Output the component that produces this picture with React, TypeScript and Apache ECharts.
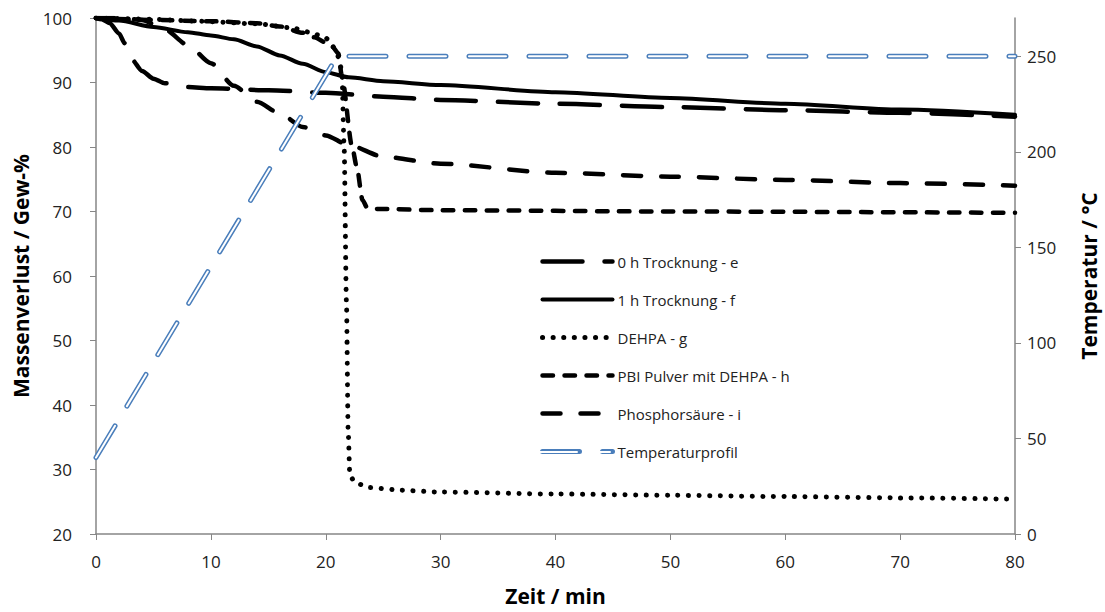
import React, { useEffect, useRef } from "react";
import * as echarts from "echarts";

const xTicks = [0, 10, 20, 30, 40, 50, 60, 70, 80];
const leftTicks = [20, 30, 40, 50, 60, 70, 80, 90, 100];
const rightTicks = [0, 50, 100, 150, 200, 250];

const trocknung0h = [
  [0, 100], [0.5, 99.8], [1.2, 99.2], [2, 97.6], [2.5, 96.1], [3.1, 93.6], [4, 91.8], [5, 90.6],
  [6, 89.9], [8, 89.3], [10, 89.1], [15, 88.8], [20, 88.4], [25, 87.8], [30, 87.3], [40, 86.7],
  [50, 86.2], [60, 85.7], [70, 85.3], [80, 84.7],
];
const trocknung1h = [
  [0, 100], [2, 99.6], [5, 98.6], [8, 97.8], [10, 97.3], [12, 96.7], [14, 95.6], [16, 94.2],
  [18, 92.9], [20, 91.6], [22, 90.8], [25, 90.2], [30, 89.6], [40, 88.5], [50, 87.6], [60, 86.7],
  [70, 85.8], [80, 85.0],
];
const dehpa = [
  [0, 100], [5, 99.8], [9, 99.5], [14, 99.1], [17, 98.5], [18.6, 97.8], [20, 96.9], [20.6, 95.6],
  [21, 94.3], [21.4, 92], [21.6, 80], [21.8, 56], [21.95, 36], [22.1, 29], [22.6, 27.9],
  [23.8, 27.2], [26.5, 26.8], [30, 26.5], [40, 26.2], [50, 26.0], [60, 25.8], [70, 25.6], [80, 25.4],
];
const pbiPulver = [
  [0, 100], [5, 99.7], [10, 99.5], [14, 99.2], [16, 98.7], [18, 97.7], [19, 97.0], [20, 96.2],
  [20.6, 95.5], [21.1, 94.5], [21.4, 91], [22.3, 80], [22.7, 76.9], [23.2, 71.8], [23.6, 70.6],
  [24.5, 70.4], [30, 70.2], [50, 70.0], [80, 69.8],
];
const phosphorsaeure = [
  [0, 100], [2, 100], [4, 99.7], [6, 98.2], [8, 95.8], [10, 93.0], [12, 89.5], [14, 87.0],
  [16, 85.2], [18, 83.1], [20, 81.8], [22, 80.3], [25, 78.5], [30, 77.4], [40, 76.0], [50, 75.4],
  [60, 74.9], [70, 74.4], [80, 74.0],
];
const temperatur = [
  [0, 40], [21, 250], [80, 250],
];

const names = [
  "0 h Trocknung - e",
  "1 h Trocknung - f",
  "DEHPA - g",
  "PBI Pulver mit DEHPA - h",
  "Phosphorsäure - i",
  "Temperaturprofil",
];

const FONT = "Open Sans";
const AXIS_COLOR = "#868686";
const TEXT_COLOR = "#222";
const BLUE = "#4A7EBB";

const LEGEND_LEFT = 540;
const LEGEND_TOP = 254;
const LEGEND_ROW = 14.8;
const LEGEND_GAP = 23;

export default function App() {
  const ref = useRef<HTMLDivElement>(null);
  useEffect(() => {
    const chart = echarts.init(ref.current!, undefined, { renderer: "svg" });
    const lineBase = (name: string, data: number[][], type: any, width: number) => ({
      name,
      type: "line",
      data,
      yAxisIndex: 0,
      symbol: "none",
      smooth: 0.25,
      smoothMonotone: "x",
      lineStyle: { color: "#000", width, type, cap: "round", join: "round" },
      itemStyle: { color: "#000" },
      z: 3,
    });
    const axisLabel = { fontFamily: FONT, fontSize: 17, color: TEXT_COLOR };
    const nameStyle = { fontFamily: FONT, fontSize: 21, fontWeight: "bold", color: "#000" };
    const legendIconY = LEGEND_TOP + 9 + 5 * (LEGEND_ROW + LEGEND_GAP);
    chart.setOption({
      animation: false,
      grid: { left: 96, right: 90, top: 18, bottom: 78, outerBoundsMode: "none", containLabel: false },
      legend: {
        orient: "vertical",
        left: LEGEND_LEFT,
        top: LEGEND_TOP,
        padding: 0,
        itemWidth: 70,
        itemHeight: 14,
        itemGap: LEGEND_GAP,
        data: names,
        itemStyle: { opacity: 0 },
        lineStyle: { width: "inherit", type: "inherit", cap: "inherit" },
        textStyle: { fontFamily: FONT, fontSize: 15, color: TEXT_COLOR },
      },
      xAxis: {
        type: "value",
        min: 0,
        max: 80,
        interval: 10,
        name: "Zeit / min",
        nameLocation: "middle",
        nameGap: 51,
        nameTextStyle: nameStyle,
        axisLine: { show: true, lineStyle: { color: AXIS_COLOR, width: 1.5 } },
        axisTick: { show: true, length: 6, lineStyle: { color: AXIS_COLOR }, customValues: xTicks },
        axisLabel: { ...axisLabel, margin: 19, customValues: xTicks },
        splitLine: { show: false },
      },
      yAxis: [
        {
          type: "value",
          min: 20,
          max: 100,
          interval: 10,
          position: "left",
          name: "Massenverlust / Gew-%",
          nameLocation: "middle",
          nameGap: 63,
          nameTextStyle: nameStyle,
          axisLine: { show: true, lineStyle: { color: AXIS_COLOR, width: 1.5 } },
          axisTick: { show: true, length: 6, lineStyle: { color: AXIS_COLOR }, customValues: leftTicks },
          axisLabel: { ...axisLabel, margin: 24, customValues: leftTicks },
          splitLine: { show: false },
        },
        {
          type: "value",
          min: 0,
          max: 270,
          interval: 50,
          position: "right",
          name: "Temperatur / °C",
          nameLocation: "middle",
          nameGap: 63,
          nameTextStyle: nameStyle,
          axisLine: { show: true, lineStyle: { color: AXIS_COLOR, width: 1.5 } },
          axisTick: { show: true, length: 6, lineStyle: { color: AXIS_COLOR }, customValues: rightTicks },
          axisLabel: { ...axisLabel, margin: 12, customValues: rightTicks },
          splitLine: { show: false },
        },
      ],
      series: [
        lineBase(names[0], trocknung0h, [40, 22], 4.5),
        lineBase(names[1], trocknung1h, "solid", 4),
        lineBase(names[2], dehpa, [0.1, 10.5], 5),
        lineBase(names[3], pbiPulver, [10.5, 11.5], 4.5),
        lineBase(names[4], phosphorsaeure, [18, 20], 4.5),
        {
          name: names[5],
          type: "line",
          data: temperatur,
          yAxisIndex: 1,
          symbol: "none",
          lineStyle: { color: BLUE, width: 5, type: [37, 23], cap: "round", join: "round" },
          itemStyle: { color: BLUE },
          z: 4,
        },
        {
          name: "Temperaturprofil-innen",
          type: "line",
          data: temperatur,
          yAxisIndex: 1,
          symbol: "none",
          silent: true,
          lineStyle: { color: "#fff", width: 2, type: [37, 23], cap: "round", join: "round" },
          itemStyle: { color: "#fff" },
          z: 5,
        },
      ],
      graphic: [
        {
          type: "line",
          silent: true,
          shape: { x1: LEGEND_LEFT, y1: legendIconY, x2: LEGEND_LEFT + 70, y2: legendIconY },
          style: { stroke: "#fff", lineWidth: 2, lineDash: [37, 23], lineCap: "round" },
          z: 100,
        },
      ],
    });
    return () => chart.dispose();
  }, []);
  return <div ref={ref} style={{ width: 1105, height: 612, position: "absolute", left: 0, top: 0 }} />;
}
